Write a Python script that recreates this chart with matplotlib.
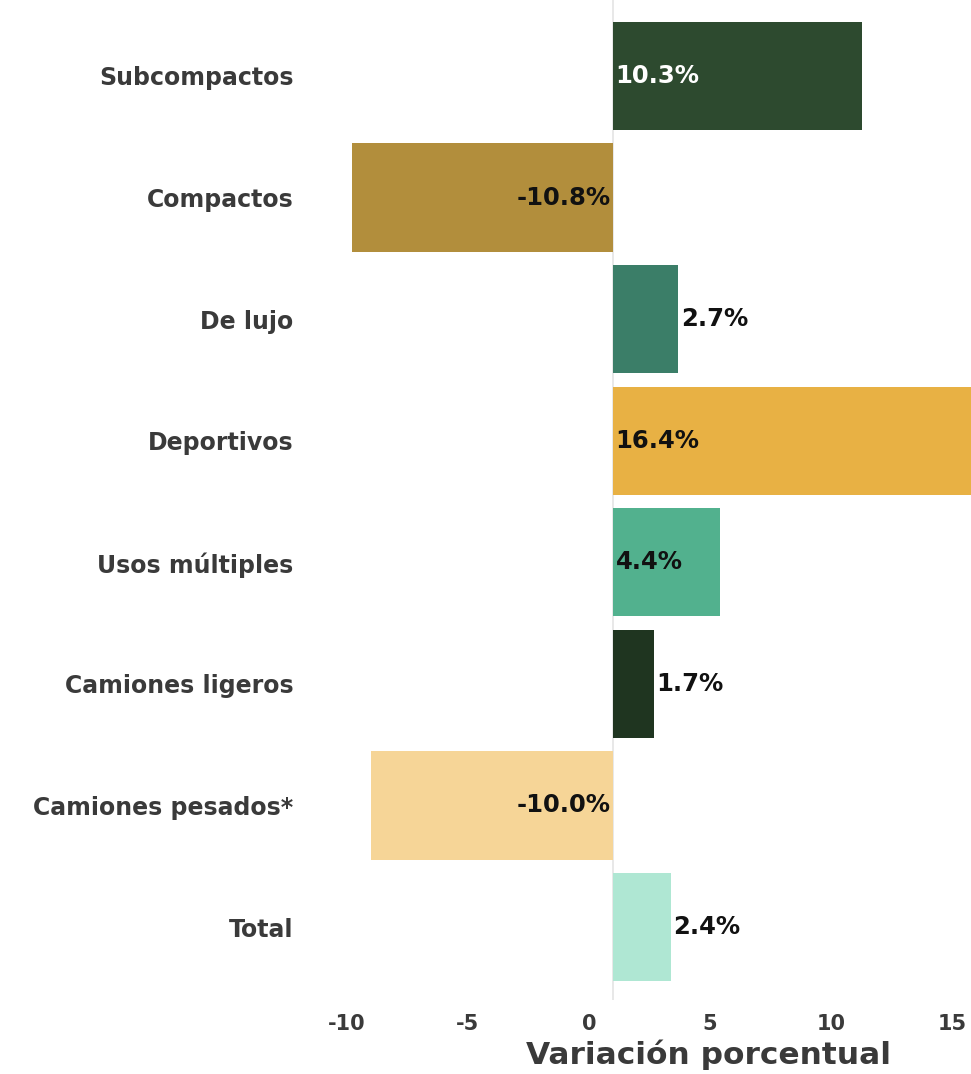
import matplotlib
matplotlib.use("Agg")
from matplotlib import pyplot as plt
import numpy as np

categorias = ["Subcompactos", "Compactos", "De lujo", "Deportivos", "Usos múltiples",
              "Camiones ligeros", "Camiones pesados*", "Total"]
variacion = [10.3, -10.8, 2.7, 16.4, 4.4, 1.7, -10.0, 2.4]
colores = ["#2d4a2f", "#b28e3c", "#3b7e68", "#e8b144", "#52b18e", "#1f3520", "#f6d597", "#afe7d3"]
color_texto = ["white", "#111111", "#111111", "#111111", "#111111", "#111111", "#111111", "#111111"]
ticks = [-10, -5, 0, 5, 10, 15]

plt.rcParams['font.family'] = ['DejaVu Sans']

fig = plt.figure(figsize=(9.71, 10.74), dpi=100)
ax = fig.add_axes([310 / 971, 74 / 1074, 1 - 310 / 971, 1000 / 1074])

y = np.arange(len(categorias))
ax.axvline(0, color="#e4e4e4", lw=1.2, zorder=0)
ax.barh(y, variacion, height=0.89, color=colores, zorder=2)

for yi, v, c in zip(y, variacion, color_texto):
    txt = f"{v:.1f}%"
    if v < 0:
        ax.text(-0.1, yi, txt, ha="right", va="center", fontsize=17.5, fontweight="bold", color=c, zorder=3)
    elif v > 4:
        ax.text(0.1, yi, txt, ha="left", va="center", fontsize=17.5, fontweight="bold", color=c, zorder=3)
    else:
        ax.text(v + 0.1, yi, txt, ha="left", va="center", fontsize=17.5, fontweight="bold", color="#111111", zorder=3)

ax.set_yticks(y, categorias)
ax.set_ylim(7.6, -0.625)
ax.set_xlim(-12.52, 14.79)
# etiquetas del eje desplazadas como en la imagen original
ax.set_xticks(np.array(ticks) - 1, [str(t) for t in ticks])
ax.tick_params(axis="y", length=0, pad=12, labelsize=17, labelcolor="#3a3a3a")
ax.tick_params(axis="x", length=0, pad=10, labelsize=15, labelcolor="#3a3a3a")
for lab in ax.get_yticklabels():
    lab.set_fontweight("bold")
for lab in ax.get_xticklabels():
    lab.set_fontweight("bold")
ax.set_xlabel("Variación porcentual", fontsize=22.5, fontweight="bold", color="#3a3a3a", va="center")
ax.xaxis.set_label_coords((708 - 310) / 661, -0.055)
for s in ax.spines.values():
    s.set_visible(False)

fig.savefig("out.png", dpi=100)
